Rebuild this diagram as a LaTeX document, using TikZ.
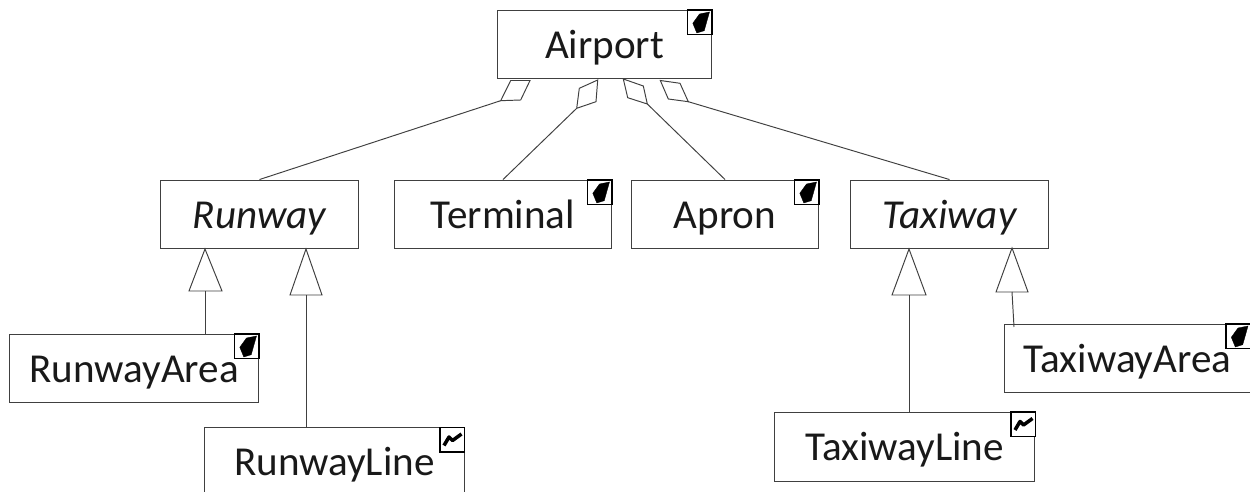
\documentclass[tikz,border=0pt]{standalone}
\usepackage{fontspec}
\setmainfont{Carlito}
\definecolor{ln}{HTML}{404040}
\tikzset{
  cls/.style={draw=ln,line width=0.7pt,fill=white,inner sep=0pt,font=\fontsize{23.4pt}{26pt}\selectfont,text height=17pt,text depth=1.1pt,anchor=center,text=black!90},
  conn/.style={draw=ln,line width=0.55pt},
  open/.style={draw=ln,line width=0.55pt,fill=white,line join=miter},
  iconbox/.style={draw=black,line width=1.1pt,fill=white},
  glyph/.style={fill=black,draw=black,line width=0.2pt},
  wiggle/.style={draw=black,line width=2pt,line join=round}
}
\newcommand{\areaicon}[2]{%
  \draw[iconbox] (#1,#2) rectangle ++(24.5,24.5);
  \fill[glyph] (#1+12,#2+4) -- (#1+22,#2+2) -- (#1+16.7,#2+20.7) -- (#1+9.3,#2+23) -- (#1+5.3,#2+13.3) -- cycle;
}
\newcommand{\lineicon}[2]{%
  \draw[iconbox] (#1,#2) rectangle ++(24.5,24.5);
  \draw[wiggle] (#1+4,#2+18) -- (#1+9,#2+9.5) -- (#1+12.5,#2+13) -- (#1+21.5,#2+6.5);
}
\begin{document}
\begin{tikzpicture}[x=0.02cm,y=-0.02cm]
\useasboundingbox (0,0) rectangle (1250,492);
\clip (0,0) rectangle (1250,492);
% boxes
\node[cls,minimum width=121.9pt,minimum height=39.1pt] (airport) at (604.5,44.5) {Airport};
\node[cls,minimum width=112.8pt,minimum height=39.1pt] (runway) at (259.5,214.5) {\itshape Runway};
\node[cls,minimum width=123.6pt,minimum height=39.1pt] (terminal) at (503,214.5) {Terminal};
\node[cls,minimum width=106.6pt,minimum height=39.1pt] (apron) at (725,214.5) {Apron};
\node[cls,minimum width=112.8pt,minimum height=39.1pt] (taxiway) at (949.5,214.5) {\itshape Taxiway};
\node[cls,minimum width=141.7pt,minimum height=39.1pt] (runwayarea) at (134,368.5) {RunwayArea};
\node[cls,minimum width=148pt,minimum height=39.1pt] (runwayline) at (334.5,462) {RunwayLine};
\node[cls,minimum width=148pt,minimum height=39.1pt] (taxiwayline) at (904.5,447) {TaxiwayLine};
\node[cls,minimum width=140pt,minimum height=39.1pt] (taxiwayarea) at (1127.5,358.5) {TaxiwayArea};
% icons
\areaicon{687.5}{10}
\areaicon{234.5}{334}
\areaicon{587.5}{180}
\areaicon{794.5}{180}
\areaicon{1226}{324}
\lineicon{440}{427.5}
\lineicon{1011}{412}
% aggregation diamonds
\coordinate (d1) at (500.7,100.7);
\coordinate (d2) at (576.7,108.3);
\coordinate (d3) at (647.3,104);
\coordinate (d4) at (688.3,101.7);
\draw[open] (510.7,80.5) -- (530,80.5) -- (520.7,100) -- (d1) -- cycle;
\draw[open] (597.7,80) -- (596,101.7) -- (d2) -- (579.3,88.3) -- cycle;
\draw[open] (623.3,79) -- (643.3,86) -- (d3) -- (627.7,97.7) -- cycle;
\draw[open] (660.3,80.5) -- (680,83.3) -- (d4) -- (668.3,99) -- cycle;
\draw[conn] (d1) -- (runway.north);
\draw[conn] (d2) -- (terminal.north);
\draw[conn] (d3) -- (apron.north);
\draw[conn] (d4) -- (taxiway.north);
% generalisation triangles
\coordinate (t1) at (205,291);
\coordinate (t2) at (306,295);
\coordinate (t3) at (909,295);
\coordinate (t4) at (1012,292);
\draw[open] (205,249) -- (222,291) -- (189,291) -- cycle;
\draw[open] (306,249) -- (322,295) -- (290,295) -- cycle;
\draw[open] (909,249) -- (926,295) -- (892,295) -- cycle;
\draw[open] (1012,248) -- (1028,292) -- (996,292) -- cycle;
\draw[conn] (t1) -- (t1 |- runwayarea.north);
\draw[conn] (t2) -- (t2 |- runwayline.north);
\draw[conn] (t3) -- (t3 |- taxiwayline.north);
\coordinate (t4e) at (1014,327);
\draw[conn] (t4) -- (t4e);
\end{tikzpicture}
\end{document}
